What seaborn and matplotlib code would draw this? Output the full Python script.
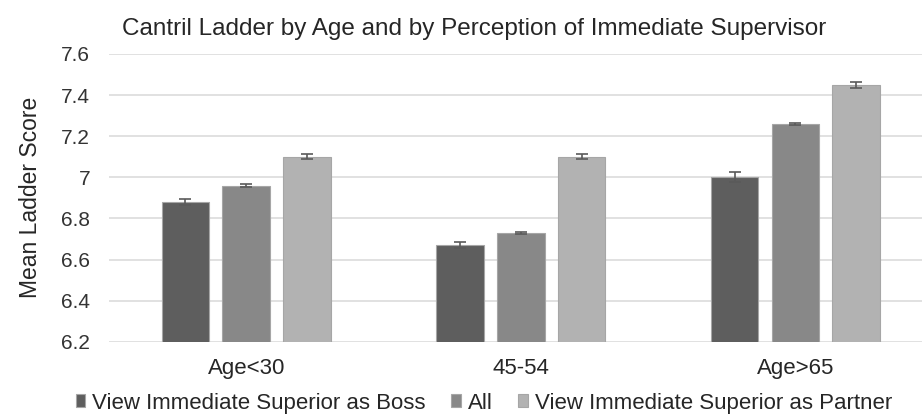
import matplotlib
matplotlib.use("Agg")
import matplotlib.pyplot as plt
import seaborn as sns
import pandas as pd

categories = ["Age<30", "45-54", "Age>65"]
series = ["View Immediate Superior as Boss", "All", "View Immediate Superior as Partner"]
boss = [6.88, 6.67, 7.00]
all_ = [6.96, 6.73, 7.26]
partner = [7.10, 7.10, 7.45]
boss_err = [0.016, 0.013, 0.024]
all_err = [0.008, 0.006, 0.005]
partner_err = [0.012, 0.012, 0.016]
yticks = [6.2, 6.4, 6.6, 6.8, 7.0, 7.2, 7.4, 7.6]
ytick_labels = ["6.2", "6.4", "6.6", "6.8", "7", "7.2", "7.4", "7.6"]
colors = ["#5e5e5e", "#888888", "#b2b2b2"]

sns.set_theme(style="white")
plt.rcParams["font.family"] = ["Liberation Sans", "DejaVu Sans"]

rows = []
for s, vals, errs in zip(series, [boss, all_, partner], [boss_err, all_err, partner_err]):
    for c, v, e in zip(categories, vals, errs):
        rows.append({"Age": c, "Series": s, "Score": v, "Err": e})
df = pd.DataFrame(rows)

fig = plt.figure(figsize=(9.22, 4.16), dpi=100)
ax = fig.add_axes([0.1181, 0.1786, 0.8934, 0.6916])

sns.barplot(data=df, x="Age", y="Score", hue="Series", order=categories,
            hue_order=series, palette=colors, width=0.664, gap=0.217,
            errorbar=None, ax=ax, edgecolor="#a6a6a6", linewidth=0.8,
            legend=True, zorder=3)

for cont, s in zip(ax.containers, series):
    sub = df[df["Series"] == s].set_index("Age").loc[categories]
    xs = [p.get_x() + p.get_width() / 2 for p in cont.patches]
    ax.errorbar(xs, sub["Score"].values, yerr=sub["Err"].values, fmt="none",
                ecolor="#5a5a5a", elinewidth=1.2, capsize=4.3, capthick=1.2, zorder=4)

ax.set_ylim(6.2, 7.6)
ax.set_yticks(yticks)
ax.set_yticklabels(ytick_labels)
ax.set_xlim(-0.5, 2.5)
ax.yaxis.grid(True, color="#d9d9d9", linewidth=1.1, zorder=0)
ax.set_axisbelow(True)
for sp in ax.spines.values():
    sp.set_visible(False)
ax.tick_params(axis="y", length=0, labelsize=15, labelcolor="#333333", pad=13.5)
ax.tick_params(axis="x", length=0, labelsize=16, labelcolor="#262626", pad=12)
ax.set_xlabel("")
ax.set_ylabel("Mean Ladder Score", fontsize=16.5, color="#262626", labelpad=14)
fig.text(474 / 922, 1 - 35 / 416, "Cantril Ladder by Age and by Perception of Immediate Supervisor",
         fontsize=17.5, color="#262626", ha="center", va="baseline")

handles, labels = ax.get_legend_handles_labels()
ax.legend_.remove()
fig.legend(handles, labels, loc="lower center", bbox_to_anchor=(484 / 922, 0.006), ncol=3,
           frameon=False, fontsize=16, handlelength=0.42, handleheight=0.5,
           handletextpad=0.32, columnspacing=1.15, borderpad=0, borderaxespad=0,
           labelcolor="#262626")

fig.savefig("out.png", dpi=100)
